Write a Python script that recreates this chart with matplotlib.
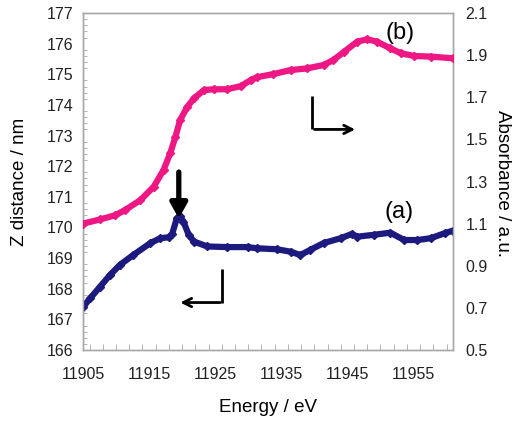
import matplotlib
matplotlib.use("Agg")
import matplotlib.pyplot as plt
from matplotlib.ticker import MultipleLocator

plt.rcParams['font.family'] = ['Liberation Sans', 'DejaVu Sans']

# (a) Z distance (left axis)
energy_a = [11905, 11906.1, 11907.6, 11909.1, 11910.6, 11912.6, 11915.2, 11916.7,
            11918.0, 11918.5, 11919.2, 11919.7, 11920.2, 11921.0, 11921.8, 11923.8,
            11926.8, 11929.9, 11931.3, 11934.3, 11936.4, 11937.9, 11939.4, 11941.4,
            11944.0, 11945.7, 11946.5, 11949.0, 11951.5, 11953.6, 11955.6, 11957.6,
            11959.7, 11961.0]
zdist_a = [167.40, 167.69, 168.07, 168.45, 168.78, 169.10, 169.49, 169.65,
           169.68, 169.79, 170.30, 170.36, 170.19, 169.76, 169.54, 169.38,
           169.36, 169.36, 169.32, 169.29, 169.21, 169.10, 169.27, 169.49,
           169.65, 169.79, 169.70, 169.76, 169.83, 169.59, 169.59, 169.65,
           169.81, 169.90]

# (b) Absorbance (right axis)
energy_b = [11905, 11907.6, 11909.9, 11911.4, 11913.7, 11915.7, 11917.2, 11918.2,
            11919.0, 11919.7, 11920.8, 11921.8, 11923.3, 11924.8, 11926.8, 11928.9,
            11930.4, 11931.3, 11933.8, 11936.4, 11938.9, 11941.4, 11942.9, 11944.5,
            11946.5, 11948.0, 11949.5, 11951.5, 11953.1, 11955.1, 11957.6, 11961.0]
absorb_b = [1.10, 1.12, 1.14, 1.165, 1.212, 1.275, 1.355, 1.434,
            1.513, 1.592, 1.655, 1.695, 1.734, 1.738, 1.738, 1.753,
            1.782, 1.795, 1.810, 1.829, 1.837, 1.853, 1.877, 1.916,
            1.964, 1.975, 1.964, 1.932, 1.909, 1.896, 1.893, 1.885]

xticks = [11905, 11915, 11925, 11935, 11945, 11955]
yticks_left = [166, 167, 168, 169, 170, 171, 172, 173, 174, 175, 176, 177]
yticks_right = [0.5, 0.7, 0.9, 1.1, 1.3, 1.5, 1.7, 1.9, 2.1]

fig = plt.figure(figsize=(5.12, 4.21), dpi=100)
ax = fig.add_axes([0.162, 0.1686, 0.723, 0.8005])
ax2 = ax.twinx()

navy = '#1c1a7e'
pink = '#ee1783'

ax.plot(energy_a, zdist_a, color=navy, lw=4.5, marker='D', ms=4.5, mec=navy, mfc=navy,
        solid_joinstyle='round', solid_capstyle='round', zorder=3)
ax2.plot(energy_b, absorb_b, color=pink, lw=4.5, marker='D', ms=4.5, mec=pink, mfc=pink,
         solid_joinstyle='round', solid_capstyle='round', zorder=3)

ax.set_xlim(11905, 11961)
ax.set_ylim(166, 177)
ax2.set_ylim(0.5, 2.1)

ax.set_xticks(xticks)
ax.set_xticklabels([str(t) for t in xticks])
ax.set_yticks(yticks_left)
ax2.set_yticks(yticks_right)
ax2.set_yticklabels([f"{t:.1f}" for t in yticks_right])

ax.xaxis.set_minor_locator(MultipleLocator(2))
ax.yaxis.set_minor_locator(MultipleLocator(0.2))

frame = '#a8a8a8'
for a in (ax, ax2):
    for s in a.spines.values():
        s.set_color(frame)
        s.set_linewidth(1.0)

ax.tick_params(axis='x', which='major', direction='in', length=0, pad=12, labelsize=11.5, colors='#222222')
ax.tick_params(axis='x', which='minor', direction='in', length=4, color=frame)
ax.tick_params(axis='y', which='major', direction='in', length=0, pad=7, labelsize=11.5, colors='#222222')
ax.tick_params(axis='y', which='minor', direction='in', length=3, color=frame)
ax2.tick_params(axis='y', which='both', direction='in', length=0, pad=9, labelsize=11.5, colors='#222222')

fig.text(268 / 512, 1 - 408 / 421, 'Energy / eV', fontsize=13.5, ha='center', va='center')
fig.text(20 / 512, 1 - 182 / 421, 'Z distance / nm', fontsize=13.5, ha='center', va='center',
         rotation=90)
fig.text(502 / 512, 1 - 183 / 421, 'Absorbance / a.u.', fontsize=13.5, ha='center', va='center',
         rotation=270)

# labels
ax2.text(11950.8, 2.005, '(b)', fontsize=17, ha='left', va='center')
ax.text(11950.6, 170.5, '(a)', fontsize=17, ha='left', va='center')

# down arrow at (a) peak
ax.annotate('', xy=(11919.5, 170.2), xytext=(11919.5, 171.9),
            arrowprops=dict(arrowstyle='-|>,head_width=0.5,head_length=0.9', lw=3.8, color='black'))

# L arrow for (b) -> right axis
ax.plot([11939.7, 11939.7], [174.3, 173.2], color='black', lw=2, solid_capstyle='butt')
ax.annotate('', xy=(11946.6, 173.2), xytext=(11939.6, 173.2),
            arrowprops=dict(arrowstyle='->,head_width=0.3,head_length=0.6', lw=2, color='black'))

# L arrow for (a) -> left axis
ax.plot([11926.1, 11926.1], [168.65, 167.55], color='black', lw=2, solid_capstyle='butt')
ax.annotate('', xy=(11919.3, 167.55), xytext=(11926.2, 167.55),
            arrowprops=dict(arrowstyle='->,head_width=0.3,head_length=0.6', lw=2, color='black'))

fig.savefig('out.png', dpi=100)
